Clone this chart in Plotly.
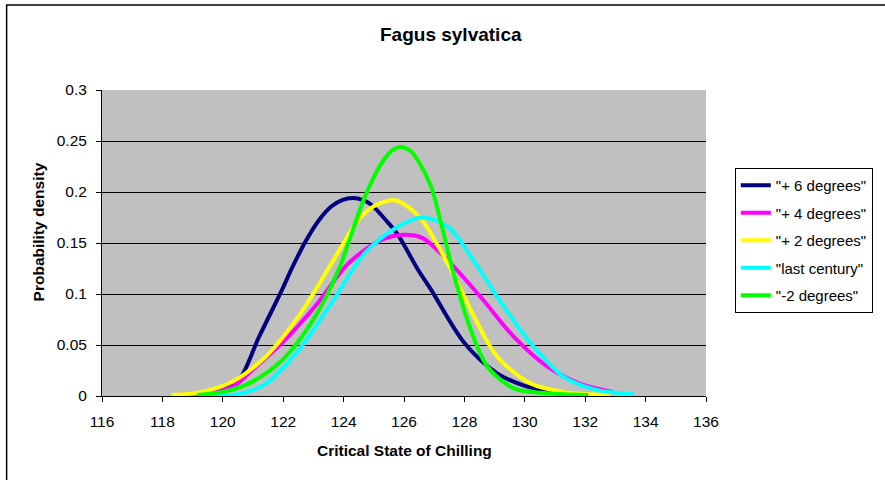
import plotly.graph_objects as go

# ---- data ----
names = ['"+ 6 degrees"', '"+ 4 degrees"', '"+ 2 degrees"', '"last century"', '"-2 degrees"']
colors = ["#000080", "#FF00FF", "#FFFF00", "#00FFFF", "#00FF00"]

x_p6 = [118.6, 119.5, 120.0, 120.54, 121.2, 121.96, 122.3, 122.73, 123.2, 123.6, 123.95, 124.3, 124.65, 124.9, 125.47, 125.8, 126.46, 126.9, 128.0, 129.1, 130.0, 130.6, 131.8]
y_p6 = [0.000, 0.002, 0.006, 0.016, 0.058, 0.104, 0.126, 0.151, 0.173, 0.186, 0.192, 0.194, 0.192, 0.188, 0.170, 0.158, 0.124, 0.104, 0.052, 0.022, 0.010, 0.006, 0.002]

x_p4 = [118.5, 119.5, 120.32, 121.0, 121.96, 123.06, 124.16, 125.25, 126.0, 126.6, 127.45, 128.54, 129.64, 130.74, 131.83, 132.93]
y_p4 = [0.001, 0.003, 0.009, 0.026, 0.052, 0.088, 0.130, 0.153, 0.158, 0.155, 0.133, 0.097, 0.058, 0.029, 0.012, 0.004]

x_p2 = [118.3, 119.3, 120.32, 121.42, 122.51, 123.6, 124.49, 125.0, 125.7, 126.2, 126.68, 127.56, 128.32, 129.09, 130.19, 131.28, 132.8]
y_p2 = [0.001, 0.004, 0.014, 0.0385, 0.078, 0.130, 0.1725, 0.186, 0.192, 0.184, 0.169, 0.1235, 0.078, 0.0385, 0.0124, 0.004, 0.001]

x_lc = [119.5, 120.54, 121.42, 122.51, 123.6, 124.7, 125.8, 126.6, 127.45, 128.21, 129.09, 130.19, 131.28, 132.38, 133.6]
y_lc = [0.000, 0.002, 0.012, 0.045, 0.091, 0.140, 0.166, 0.175, 0.166, 0.137, 0.097, 0.052, 0.019, 0.006, 0.002]

x_m2 = [119.15, 120.0, 120.87, 121.96, 123.06, 123.83, 124.7, 125.25, 125.6, 125.9, 126.2, 126.46, 126.9, 127.23, 127.67, 128.21, 128.76, 129.64, 130.74, 132.1]
y_m2 = [0.001, 0.004, 0.0124, 0.035, 0.078, 0.1235, 0.195, 0.228, 0.2405, 0.244, 0.2405, 0.231, 0.205, 0.169, 0.117, 0.065, 0.029, 0.0075, 0.0026, 0.001]

xs = [x_p6, x_p4, x_p2, x_lc, x_m2]
ys = [y_p6, y_p4, y_p2, y_lc, y_m2]

x_ticks = [116, 118, 120, 122, 124, 126, 128, 130, 132, 134, 136]
y_ticks = [0, 0.05, 0.1, 0.15, 0.2, 0.25, 0.3]
y_ticklabels = ["0", "0.05", "0.1", "0.15", "0.2", "0.25", "0.3"]

FONT = "Liberation Sans, Arial, sans-serif"

fig = go.Figure()
for i, (n, c, x, y) in enumerate(zip(names, colors, xs, ys)):
    fig.add_trace(go.Scatter(x=x, y=y, name=n, mode="lines", legendgroup=f"g{i}",
                             line=dict(color=c, width=4, shape="spline", smoothing=0.9)))

fig.update_layout(
    width=885, height=480,
    margin=dict(l=102, r=175, t=90, b=84),
    paper_bgcolor="white",
    plot_bgcolor="#C0C0C0",
    font=dict(family=FONT, size=15.5, color="black"),
    showlegend=True,
    legend=dict(x=1.0477, y=0.745, xanchor="left", yanchor="top",
                bgcolor="white", bordercolor="black", borderwidth=1,
                font=dict(family=FONT, size=15, color="black"),
                traceorder="grouped", tracegroupgap=5),
    xaxis=dict(range=[116, 136], tickvals=x_ticks, ticks="outside", ticklen=5,
               tickcolor="black", showline=True, linecolor="black", linewidth=1,
               showgrid=False, zeroline=False, ticklabelstandoff=6,
               tickfont=dict(family=FONT, size=15.5, color="black")),
    yaxis=dict(range=[0, 0.3], tickvals=y_ticks, ticktext=y_ticklabels, ticks="outside",
               ticklen=5, tickcolor="black", showline=True, linecolor="black", linewidth=1,
               showgrid=True, gridcolor="black", gridwidth=1, zeroline=False,
               ticklabelstandoff=6,
               tickfont=dict(family=FONT, size=15.5, color="black")),
    annotations=[
        dict(text="<b>Fagus sylvatica</b>", xref="paper", yref="paper", x=0.577, y=1.18,
             xanchor="center", yanchor="middle", showarrow=False,
             font=dict(family=FONT, size=19, color="black")),
        dict(text="<b>Critical State of Chilling</b>", xref="paper", yref="paper", x=0.5,
             y=(396 - 450) / 306, xanchor="center", yanchor="middle", showarrow=False,
             font=dict(family=FONT, size=15.5, color="black")),
        dict(text="<b>Probability density</b>", xref="paper", yref="paper",
             x=(38 - 102) / 608, y=(396 - 232) / 306, xanchor="center", yanchor="middle",
             textangle=-90, showarrow=False,
             font=dict(family=FONT, size=15.5, color="black")),
    ],
    shapes=[dict(type="rect", xref="paper", yref="paper",
                 x0=(6 - 102) / 608, x1=2.0, y0=-1.0, y1=(396 - 5) / 306,
                 line=dict(color="black", width=1.5), fillcolor="rgba(0,0,0,0)")],
)

fig.write_html("out.html")
